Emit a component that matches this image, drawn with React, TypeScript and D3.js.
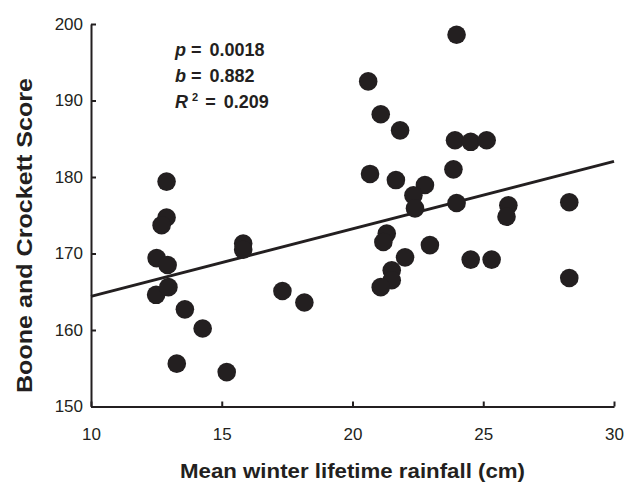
import React, { useEffect, useRef } from 'react';
import * as d3 from 'd3';

// mean winter lifetime rainfall (cm) and Boone and Crockett score, one entry per animal
const rainfall = [
  12.89, 12.89, 12.70, 12.51, 12.93, 12.49, 12.96, 13.59, 14.27, 13.28, 15.19,
  15.82, 15.82, 17.32, 18.16, 20.60, 21.08, 21.82, 20.67, 21.66, 22.77, 22.33,
  22.39, 21.31, 21.18, 22.96, 22.01, 21.50, 21.50, 21.08, 23.98, 23.92, 24.52,
  25.13, 23.86, 23.98, 25.96, 25.89, 28.29, 24.52, 25.32, 28.29,
];
const score = [
  179.4, 174.7, 173.7, 169.4, 168.5, 164.6, 165.6, 162.7, 160.2, 155.6, 154.5,
  171.3, 170.5, 165.1, 163.6, 192.5, 188.2, 186.1, 180.4, 179.6, 178.95, 177.6,
  175.9, 172.6, 171.5, 171.1, 169.5, 167.8, 166.5, 165.6, 198.6, 184.8, 184.6,
  184.8, 181.0, 176.6, 176.3, 174.8, 176.7, 169.2, 169.2, 166.8,
];

const xTicks = [10, 15, 20, 25, 30];
const yTicks = [150, 160, 170, 180, 190, 200];

// least squares fit
const fitSlope = 0.882;
const fitIntercept = 155.58;

const statLabels = ['p', 'b', 'R'];
const statValues = ['0.0018', '0.882', '0.209'];

const FONT = '"Liberation Sans", Arial, Helvetica, sans-serif';
const INK = '#231f20';

const App = () => {
  const svgRef = useRef(null);

  useEffect(() => {
    document.body.style.margin = '0';

    const svg = d3.select(svgRef.current);
    svg.selectAll('*').remove();

    const x = d3.scaleLinear().domain([10, 30]).range([91, 614]);
    const y = d3.scaleLinear().domain([150, 200]).range([406.5, 24]);

    // x axis, ticks pointing inwards
    const xAxis = svg.append('g')
      .attr('transform', `translate(0,${y(150)})`)
      .call(d3.axisBottom(x).tickValues(xTicks).tickSizeInner(-5).tickSizeOuter(0).tickPadding(21));

    const yAxis = svg.append('g')
      .attr('transform', `translate(${x(10)},0)`)
      .call(d3.axisLeft(y).tickValues(yTicks).tickSizeInner(-5).tickSizeOuter(0).tickPadding(8));

    [xAxis, yAxis].forEach(ax => {
      ax.select('.domain').attr('stroke', INK).attr('stroke-width', 2);
      ax.selectAll('.tick line').attr('stroke', INK).attr('stroke-width', 2);
      ax.selectAll('text')
        .attr('fill', INK)
        .style('font-family', FONT)
        .style('font-size', '17px');
      ax.attr('font-family', null).attr('font-size', null);
    });

    // regression line
    const line = d3.line().x(d => x(d)).y(d => y(fitIntercept + fitSlope * d));
    svg.append('path')
      .datum(x.domain())
      .attr('d', line)
      .attr('fill', 'none')
      .attr('stroke', INK)
      .attr('stroke-width', 3);

    // points
    svg.append('g')
      .selectAll('circle')
      .data(rainfall.map((r, i) => ({ r, s: score[i] })))
      .enter().append('circle')
      .attr('cx', d => x(d.r))
      .attr('cy', d => y(d.s))
      .attr('r', 9.3)
      .attr('fill', INK);

    // stats block
    const stats = svg.append('g')
      .style('font-family', FONT)
      .style('font-size', '18px')
      .style('font-weight', 'bold')
      .attr('fill', INK);

    statLabels.forEach((lab, i) => {
      const t = stats.append('text')
        .attr('x', 175)
        .attr('y', 56 + i * 26);
      t.append('tspan').style('font-style', 'italic').text(lab);
      if (lab === 'R') {
        t.append('tspan').attr('dx', 4).attr('dy', -7).style('font-size', '11px').text('2');
        t.append('tspan').attr('dx', 7).attr('dy', 7).text('=');
      } else {
        t.append('tspan').attr('dx', 5).text('=');
      }
      t.append('tspan').attr('dx', 8).text(statValues[i]);
    });

    // axis titles
    svg.append('text')
      .attr('x', 352.5)
      .attr('y', 478)
      .attr('text-anchor', 'middle')
      .attr('textLength', 345)
      .attr('lengthAdjust', 'spacingAndGlyphs')
      .style('font-family', FONT)
      .style('font-size', '21px')
      .style('font-weight', 'bold')
      .attr('fill', INK)
      .text('Mean winter lifetime rainfall (cm)');

    svg.append('text')
      .attr('transform', 'translate(31.5,235.5) rotate(-90)')
      .attr('text-anchor', 'middle')
      .attr('textLength', 315)
      .attr('lengthAdjust', 'spacingAndGlyphs')
      .style('font-family', FONT)
      .style('font-size', '22px')
      .style('font-weight', 'bold')
      .attr('fill', INK)
      .text('Boone and Crockett Score');
  }, []);

  return (
    <svg ref={svgRef} width={626} height={483} style={{ display: 'block', background: '#fff' }} />
  );
};

export default App;
